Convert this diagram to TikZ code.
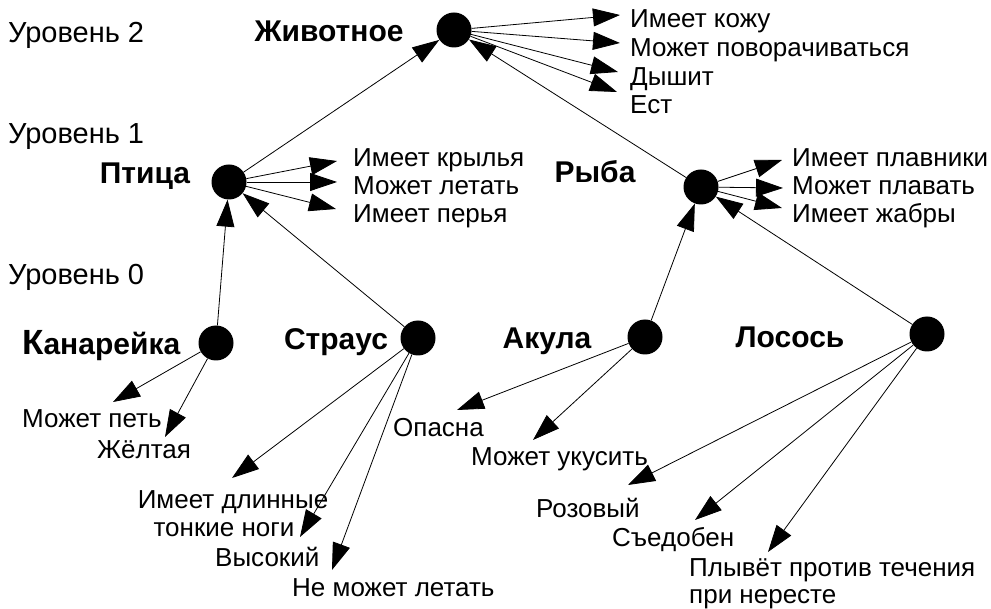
\documentclass[tikz,border=0pt]{standalone}
\usepackage{fontspec}
\setmainfont{Liberation Sans}
\usetikzlibrary{arrows.meta}

\begin{document}
\begin{tikzpicture}[x=1pt,y=-1pt,
  dot/.style={circle,fill=black,minimum size=35pt,inner sep=0pt},
  lvl/.style={anchor=base west,inner sep=0pt,font=\fontsize{29}{32}\selectfont},
  cls/.style={anchor=base,inner sep=0pt,font=\bfseries\fontsize{30}{33}\selectfont},
  attr/.style={anchor=base west,inner sep=0pt,font=\fontsize{26}{29}\selectfont},
  link/.style={line width=0.8pt,-{Triangle[length=27pt,width=18pt]}},
]
\useasboundingbox (0,0) rectangle (991,609);

% level captions
\node[lvl] (lv2) at (8,43) {Уровень 2};
\node[lvl] (lv1) at (8,144) {Уровень 1};
\node[lvl] (lv0) at (8,285) {Уровень 0};

% concept nodes
\node[dot] (animal) at (454,30) {};
\node[dot] (bird) at (229,182) {};
\node[dot] (fish) at (701,187) {};
\node[dot] (canary) at (216,343) {};
\node[dot] (ostrich) at (418,338) {};
\node[dot] (shark) at (645,337) {};
\node[dot] (salmon) at (927,334) {};

% concept names
\node[cls] (tAnimal) at (329,42) {Животное};
\node[cls] (tBird) at (145,184) {Птица};
\node[cls] (tFish) at (595,183) {Рыба};
\node[cls,anchor=base west] (tCanary) at (22,355) {{\fontsize{35}{36}\selectfont К}анарейка};
\node[cls] (tOstrich) at (336,350) {Страус};
\node[cls] (tShark) at (547,349) {Акула};
\node[cls] (tSalmon) at (790,348) {Лосось};

% is-a links
\draw[link] (bird) -- (animal);
\draw[link] (fish) -- (animal);
\draw[link] (canary) -- (bird);
\draw[link] (ostrich) -- (bird);
\draw[link] (shark) -- (fish);
\draw[link] (salmon) -- (fish);

% properties of the animal
\node[attr] (a1) at (630,28) {Имеет кожу};
\node[attr] (a2) at (630,57) {Может поворачиваться};
\node[attr] (a3) at (630,86) {Дышит};
\node[attr] (a4) at (630,114) {Ест};
\coordinate (pa1) at (620,15);
\coordinate (pa2) at (620,43);
\coordinate (pa3) at (618,72);
\coordinate (pa4) at (617,92);
\foreach \p in {pa1,pa2,pa3,pa4} \draw[link] (animal) -- (\p);

% properties of the bird
\node[attr] (b1) at (353,167) {Имеет крылья};
\node[attr] (b2) at (353,195) {Может летать};
\node[attr] (b3) at (353,223) {Имеет перья};
\coordinate (pb1) at (337,161);
\coordinate (pb2) at (337,182);
\coordinate (pb3) at (336,209);
\foreach \p in {pb1,pb2,pb3} \draw[link] (bird) -- (\p);

% properties of the fish
\node[attr] (f1) at (792,167) {Имеет плавники};
\node[attr] (f2) at (792,195) {Может плавать};
\node[attr] (f3) at (792,223) {Имеет жабры};
\coordinate (pf1) at (782,160);
\coordinate (pf2) at (783,188);
\coordinate (pf3) at (782,208);
\foreach \p in {pf1,pf2,pf3} \draw[link] (fish) -- (\p);

% properties of the canary
\node[attr] (c1) at (22,428) {Может петь};
\node[attr] (c2) at (97,459) {Жёлтая};
\coordinate (pc1) at (113,402);
\coordinate (pc2) at (165,437);
\foreach \p in {pc1,pc2} \draw[link] (canary) -- (\p);

% properties of the ostrich
\node[attr,anchor=base] (o1) at (233,508) {Имеет длинные};
\node[attr,anchor=base] (o1b) at (224,536) {тонкие ноги};
\node[attr] (o2) at (215,566) {Высокий};
\node[attr] (o3) at (292,596) {Не может летать};
\coordinate (po1) at (232,478);
\coordinate (po2) at (300,537);
\coordinate (po3) at (332,570);
\foreach \p in {po1,po2,po3} \draw[link] (ostrich) -- (\p);

% properties of the shark
\node[attr] (s1) at (393,437) {Опасна};
\node[attr] (s2) at (471,466) {Может укусить};
\coordinate (ps1) at (457,410);
\coordinate (ps2) at (533,440);
\foreach \p in {ps1,ps2} \draw[link] (shark) -- (\p);

% properties of the salmon
\node[attr] (l1) at (536,517) {Розовый};
\node[attr] (l2) at (612,546) {Съедобен};
\node[attr] (l3) at (689,576) {Плывёт против течения};
\node[attr] (l3b) at (689,603) {при нересте};
\coordinate (pl1) at (628,485);
\coordinate (pl2) at (695,520);
\coordinate (pl3) at (768,552);
\foreach \p in {pl1,pl2,pl3} \draw[link] (salmon) -- (\p);
\end{tikzpicture}
\end{document}
